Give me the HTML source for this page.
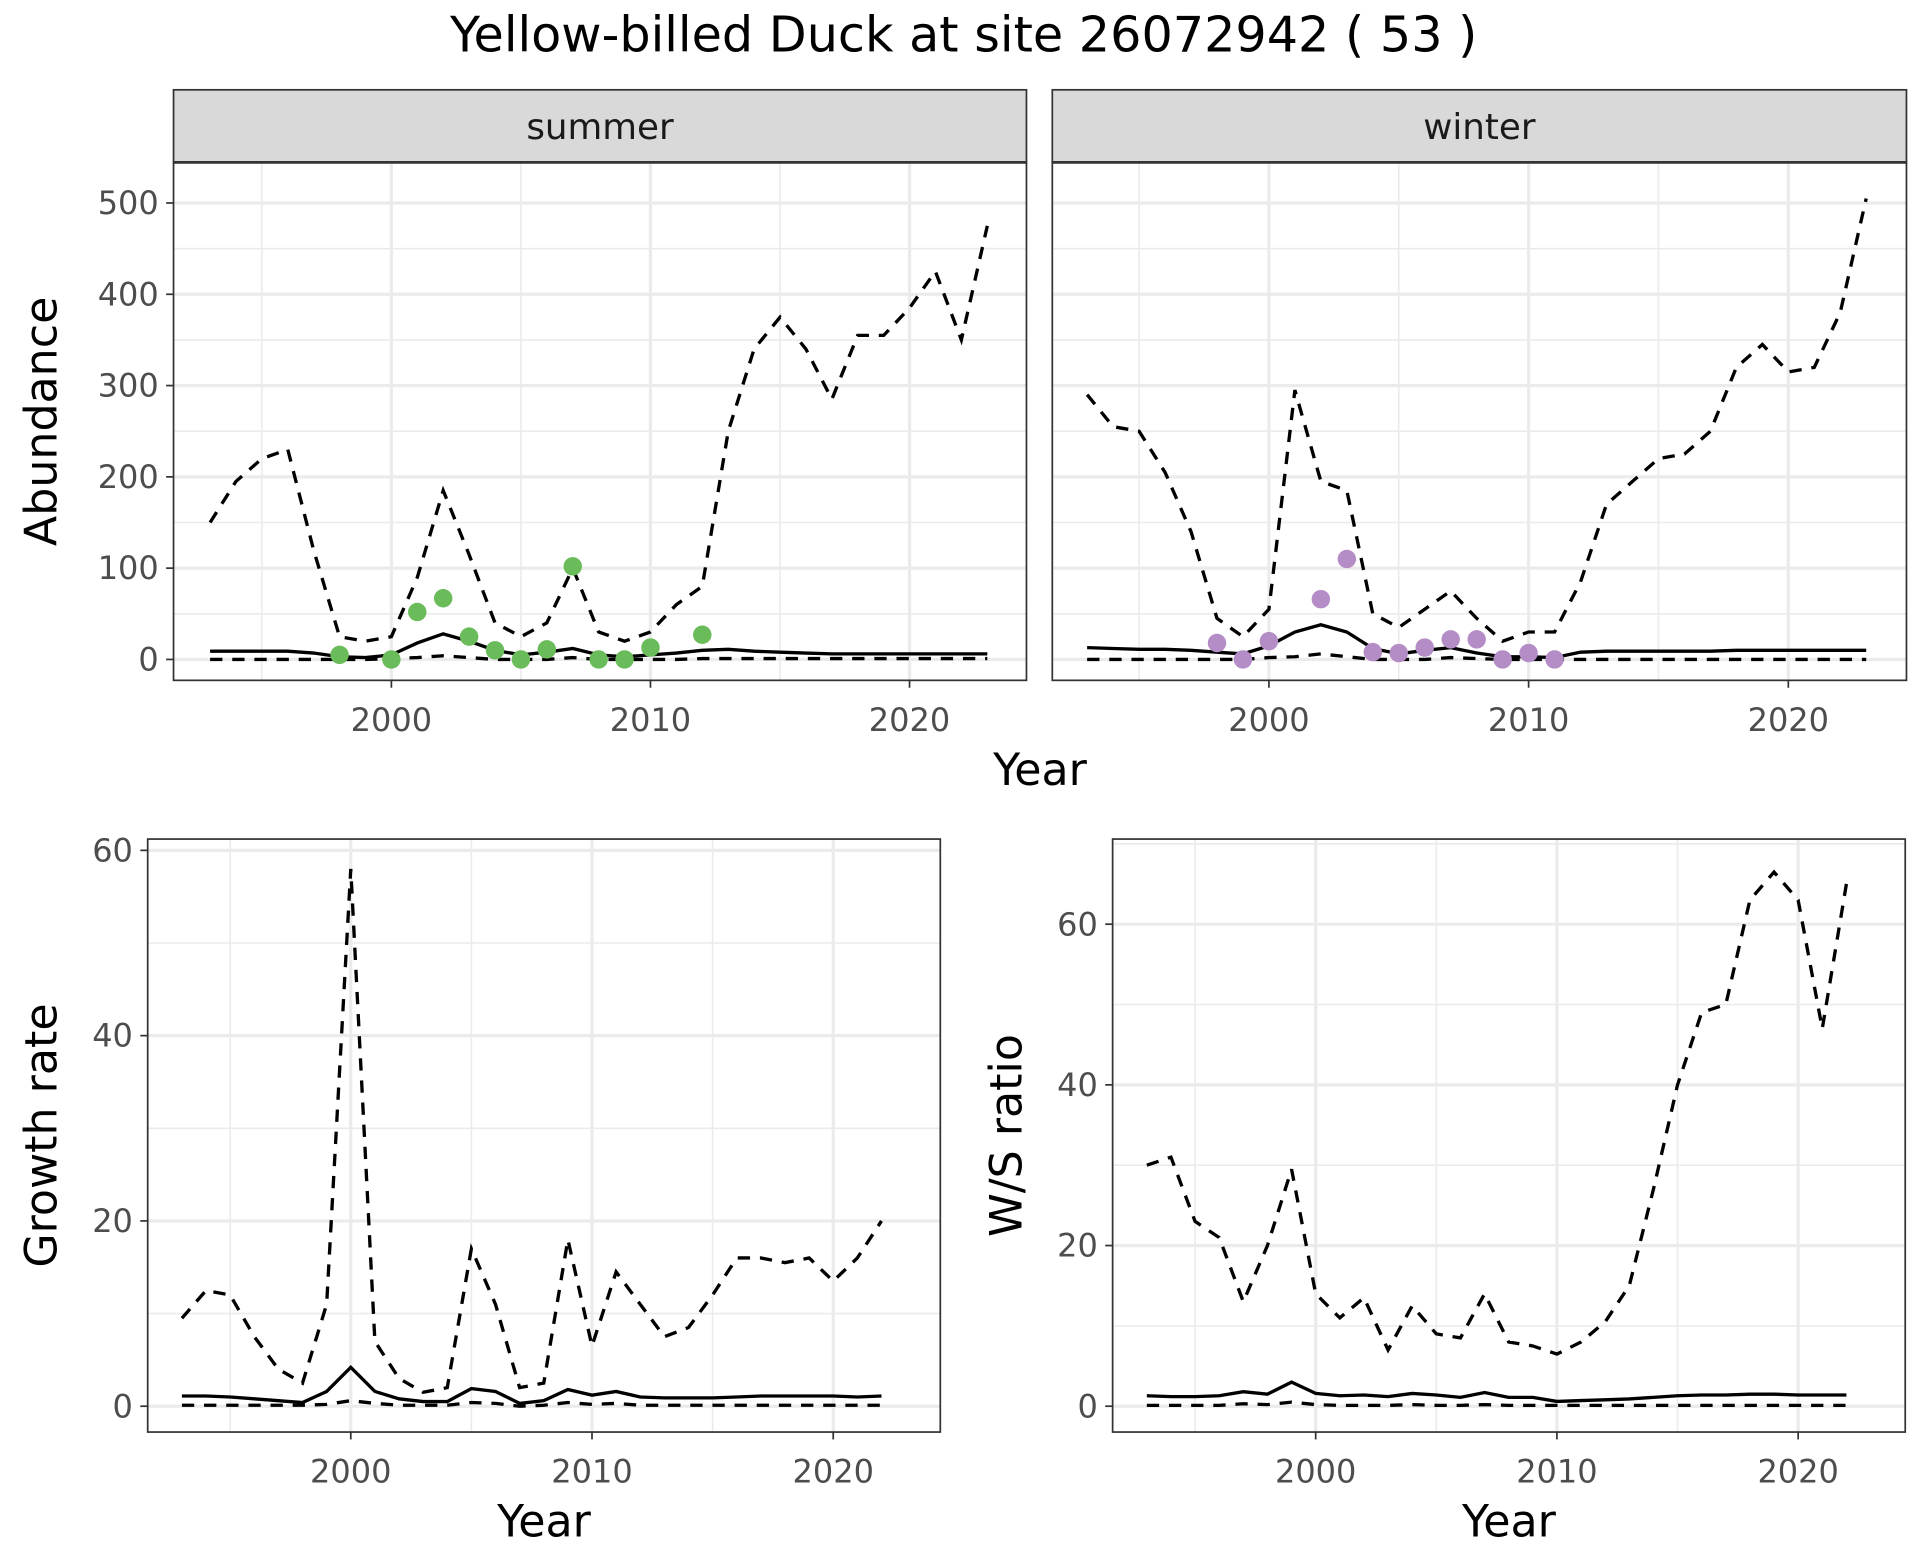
<!DOCTYPE html>
<html><head><meta charset="utf-8"><style>
html,body{margin:0;padding:0;background:#fff;}
svg{display:block;font-family:"DejaVu Sans","Liberation Sans",sans-serif;}
</style></head><body>
<svg id="c" width="1920" height="1560" viewBox="0 0 1560 1268" preserveAspectRatio="none" xmlns="http://www.w3.org/2000/svg">
<text x="783" y="42" font-size="40" text-anchor="middle" fill="#000">Yellow-billed Duck at site 26072942 ( 53 )</text>
</svg>
<script>
const yearsA = [1993,1994,1995,1996,1997,1998,1999,2000,2001,2002,2003,2004,2005,2006,2007,2008,2009,2010,2011,2012,2013,2014,2015,2016,2017,2018,2019,2020,2021,2022,2023];
const sumUpper = [150,195,220,230,120,25,20,25,90,185,115,40,25,40,100,30,20,30,60,80,250,340,375,340,285,355,355,385,425,350,475];
const sumMean = [9,9,9,9,7,3,2,5,18,28,20,10,5,8,12,5,3,5,7,10,11,9,8,7,6,6,6,6,6,6,6];
const sumLower = [0,0,0,0,0,0,0,1,2,4,2,0,0,0,2,0,0,0,0,1,1,1,1,1,1,1,1,1,1,1,1];
const sumPtYears = [1998,2000,2001,2002,2003,2004,2005,2006,2007,2008,2009,2010,2012];
const sumPts = [5,0,52,67,25,10,0,11,102,0,0,13,27];
const winUpper = [290,255,250,205,140,45,25,55,295,195,185,50,35,55,75,45,20,30,30,85,170,195,220,225,250,320,345,315,320,380,505];
const winMean = [13,12,11,11,10,8,6,15,30,38,30,12,6,10,13,7,3,3,2,8,9,9,9,9,9,10,10,10,10,10,10];
const winLower = [0,0,0,0,0,0,0,2,3,6,3,0,0,0,2,1,0,0,0,0,0,0,0,0,0,0,0,0,0,0,0];
const winPtYears = [1998,1999,2000,2002,2003,2004,2005,2006,2007,2008,2009,2010,2011];
const winPts = [18,0,20,66,110,8,7,13,22,22,0,7,0];
const yearsB = [1993,1994,1995,1996,1997,1998,1999,2000,2001,2002,2003,2004,2005,2006,2007,2008,2009,2010,2011,2012,2013,2014,2015,2016,2017,2018,2019,2020,2021,2022];
const grUpper = [9.5,12.5,12,7.5,4,2.5,11,58,7,3,1.5,2,17,11,2,2.5,18,6.5,14.5,11,7.5,8.5,12,16,16,15.5,16,13.5,16,20];
const grMean = [1.1,1.1,1,0.8,0.6,0.4,1.6,4.2,1.6,0.8,0.5,0.5,1.9,1.6,0.3,0.6,1.8,1.2,1.6,1,0.9,0.9,0.9,1,1.1,1.1,1.1,1.1,1,1.1];
const grLower = [0.1,0.1,0.1,0.1,0.1,0.1,0.2,0.6,0.3,0.1,0.1,0.1,0.4,0.3,0,0.1,0.4,0.2,0.3,0.1,0.1,0.1,0.1,0.1,0.1,0.1,0.1,0.1,0.1,0.1];
const wsUpper = [30,31,23,21,13,20,29.5,14,11,13.5,7,12.5,9,8.5,14,8,7.5,6.5,8,10.5,15,27,40,49,50,63,66.5,63,47,65];
const wsMean = [1.3,1.2,1.2,1.3,1.8,1.5,3,1.6,1.3,1.4,1.2,1.6,1.4,1.1,1.7,1.1,1.1,0.6,0.7,0.8,0.9,1.1,1.3,1.4,1.4,1.5,1.5,1.4,1.4,1.4];
const wsLower = [0.1,0.1,0.1,0.1,0.3,0.2,0.5,0.2,0.1,0.1,0.1,0.2,0.1,0.1,0.2,0.1,0.1,0.1,0.1,0.1,0.1,0.1,0.1,0.1,0.1,0.1,0.1,0.1,0.1,0.1];
const xTicks = [2000,2010,2020];
const abTicks = [0,100,200,300,400,500];
const grTicks = [0,20,40,60];
const wsTicks = [0,20,40,60];

const svg = document.getElementById('c');
const NS = 'http://www.w3.org/2000/svg';
function mk(tag, attrs, parent){const e=document.createElementNS(NS,tag);for(const k in attrs)e.setAttribute(k,attrs[k]);(parent||svg).appendChild(e);return e;}
function txt(s, attrs, parent){const e=mk('text',attrs,parent);e.textContent=s;return e;}

function panel(p){
  const g = mk('g',{});
  
  
  const X = v => p.x0px + (v - p.xv0) * p.xs;
  const Y = v => p.y0px - (v - p.yv0) * p.ys;
  mk('rect',{x:p.l,y:p.t,width:p.r-p.l,height:p.b-p.t,fill:'#fff'},g);
  for (let v = p.minorX0; X(v) < p.r; v += 10) if (X(v) > p.l) mk('line',{x1:X(v),x2:X(v),y1:p.t,y2:p.b,stroke:'#ebebeb','stroke-width':1.3},g);
  for (let v = p.yMinor0; Y(v) > p.t; v += p.yStep) if (Y(v) < p.b) mk('line',{x1:p.l,x2:p.r,y1:Y(v),y2:Y(v),stroke:'#ebebeb','stroke-width':1.3},g);
  xTicks.forEach(v=>mk('line',{x1:X(v),x2:X(v),y1:p.t,y2:p.b,stroke:'#ebebeb','stroke-width':2.6},g));
  p.yTicks.forEach(v=>mk('line',{x1:p.l,x2:p.r,y1:Y(v),y2:Y(v),stroke:'#ebebeb','stroke-width':2.6},g));
  const path = (xs, ys) => xs.map((x,i)=>(i?'L':'M')+X(x).toFixed(1)+','+Y(ys[i]).toFixed(1)).join(' ');
  const up = mk('path',{d:path(p.years,p.upper),fill:'none',stroke:'#000','stroke-width':2.7,'stroke-dasharray':'10,8'},g);
  
  
  const lo = mk('path',{d:path(p.years,p.lower),fill:'none',stroke:'#000','stroke-width':2.7,'stroke-dasharray':'10,8'},g);
  
  
  const mn = mk('path',{d:path(p.years,p.mean),fill:'none',stroke:'#000','stroke-width':2.7},g);
  
  
  if (p.pts) p.ptYears.forEach((yr,i)=>{
    const c = mk('circle',{cx:X(yr),cy:Y(p.pts[i]),r:7.5,fill:p.ptColor},g);
    
    
  });
  mk('rect',{x:p.l,y:p.t,width:p.r-p.l,height:p.b-p.t,fill:'none',stroke:'#333','stroke-width':1.4},g);
  xTicks.forEach(v=>{
    mk('line',{x1:X(v),x2:X(v),y1:p.b,y2:p.b+6,stroke:'#333','stroke-width':1.4},g);
    const t = txt(String(v),{x:X(v),y:p.b+41,'font-size':26,'text-anchor':'middle',fill:'#4d4d4d'},g);
    
    
  });
  if (p.showY) p.yTicks.forEach(v=>{
    mk('line',{x1:p.l-6,x2:p.l,y1:Y(v),y2:Y(v),stroke:'#333','stroke-width':1.4},g);
    const t = txt(String(v),{x:p.l-12,y:Y(v)+9,'font-size':26,'text-anchor':'end',fill:'#4d4d4d'},g);
    
    
  });
  if (p.strip){
    mk('rect',{x:p.l,y:73,width:p.r-p.l,height:59,fill:'#d9d9d9',stroke:'#333','stroke-width':1.4},g);
    mk('line',{x1:p.l,x2:p.r,y1:132,y2:132,stroke:'#333','stroke-width':2.2},g);
    const t = txt(p.strip,{x:(p.l+p.r)/2,y:113,'font-size':29,'text-anchor':'middle',fill:'#1a1a1a'},g);
    
    
  }
  if (p.ylab){
    const t = txt(p.ylab,{x:0,y:0,'font-size':36,'text-anchor':'middle',fill:'#000',transform:`translate(${p.ylabX},${(p.t+p.b)/2}) rotate(-90)`},g);
    
    
  }
  if (p.xlabX){
    const t = txt('Year',{x:p.xlabX,y:p.xlabY,'font-size':36,'text-anchor':'middle',fill:'#000'},g);
    
    
  }
}

panel({name:'summer-panel',l:141,r:834,t:132,b:553,x0px:318,xv0:2000,xs:21.05,y0px:536,yv0:0,ys:0.742,minorX0:1995,yMinor0:50,yStep:100,yTicks:abTicks,years:yearsA,upper:sumUpper,mean:sumMean,lower:sumLower,ptYears:sumPtYears,pts:sumPts,ptColor:'#6abb59',showY:true,strip:'summer',ylab:'Abundance',ylabX:46,xlabX:845,xlabY:638});
panel({name:'winter-panel',l:855,r:1549,t:132,b:553,x0px:1031,xv0:2000,xs:21.1,y0px:536,yv0:0,ys:0.742,minorX0:1995,yMinor0:50,yStep:100,yTicks:abTicks,years:yearsA,upper:winUpper,mean:winMean,lower:winLower,ptYears:winPtYears,pts:winPts,ptColor:'#b48cc6',showY:false,strip:'winter'});
panel({name:'growth-rate-panel',l:120,r:764,t:682,b:1164,x0px:285,xv0:2000,xs:19.6,y0px:1143,yv0:0,ys:7.53,minorX0:1995,yMinor0:10,yStep:20,yTicks:grTicks,years:yearsB,upper:grUpper,mean:grMean,lower:grLower,showY:true,ylab:'Growth rate',ylabX:46,xlabX:442,xlabY:1249});
panel({name:'ws-ratio-panel',l:904,r:1548,t:682,b:1164,x0px:1069,xv0:2000,xs:19.6,y0px:1143,yv0:0,ys:6.53,minorX0:1995,yMinor0:10,yStep:20,yTicks:wsTicks,years:yearsB,upper:wsUpper,mean:wsMean,lower:wsLower,showY:true,ylab:'W/S ratio',ylabX:830,xlabX:1226,xlabY:1249});
</script>
</body></html>
